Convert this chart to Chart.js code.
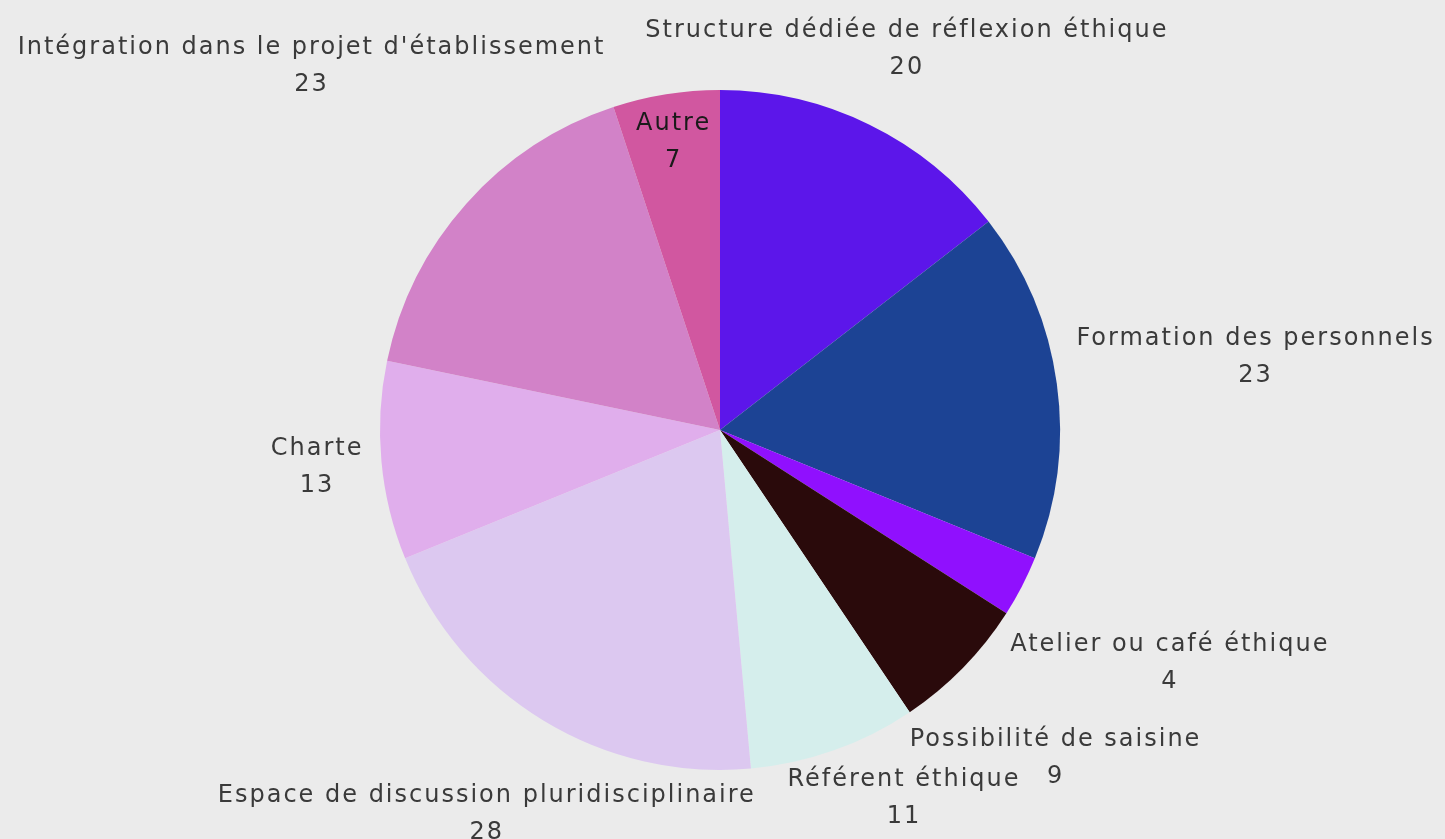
<!DOCTYPE html>
<html>
<head>
<meta charset="utf-8">
<script src="https://cdn.jsdelivr.net/npm/chart.js@4"></script>
<style>
  html, body { margin: 0; padding: 0; background: #ebebeb; }
  #wrap { width: 1445px; height: 839px; }
</style>
</head>
<body>
<div id="wrap"><canvas id="pieChart" width="1445" height="839"></canvas></div>
<script>
// Data
const categories = [
    'Structure dédiée de réflexion éthique',
    'Formation des personnels',
    'Atelier ou café éthique',
    'Possibilité de saisine',
    'Référent éthique',
    'Espace de discussion pluridisciplinaire',
    'Charte',
    "Intégration dans le projet d'établissement",
    'Autre'
];
const counts = [20, 23, 4, 9, 11, 28, 13, 23, 7];
const sliceColors = ['#5c16ea', '#1c4394', '#9010fe', '#2a0a0b', '#d5eeec', '#dcc8f0', '#e0aeec', '#d282c8', '#d157a0'];

// label distance from centre (x radius), and small angle tweaks in degrees
const labelRadius = [1.25, 1.59, 1.49, 1.38, 1.21, 1.32, 1.19, 1.61, 0.86];
const labelShift = [0, 0, 0, 0, -7, 0, 0, 0, 0];

const labelPlugin = {
    id: 'sliceLabels',
    afterDatasetsDraw(chart) {
        const ctx = chart.ctx;
        const meta = chart.getDatasetMeta(0);
        ctx.save();
        ctx.font = '24px "DejaVu Sans", sans-serif';
        ctx.letterSpacing = '2px';
        ctx.textAlign = 'center';
        ctx.textBaseline = 'middle';
        meta.data.forEach((arc, i) => {
            const mid = (arc.startAngle + arc.endAngle) / 2 + labelShift[i] * Math.PI / 180;
            const r = arc.outerRadius * labelRadius[i];
            const x = arc.x + Math.cos(mid) * r;
            const y = arc.y + Math.sin(mid) * r;
            ctx.fillStyle = i === 8 ? '#1a1a1a' : '#3a3a3a';
            ctx.fillText(categories[i], x, y - 18);
            ctx.fillText(String(counts[i]), x, y + 19);
        });
        ctx.restore();
    }
};

new Chart(document.getElementById('pieChart'), {
    type: 'pie',
    data: {
        labels: categories,
        datasets: [{
            data: counts,
            backgroundColor: sliceColors,
            borderWidth: 0
        }]
    },
    options: {
        responsive: false,
        animation: false,
        layout: {
            padding: { top: 90, bottom: 69, left: 300, right: 305 }
        },
        plugins: {
            legend: { display: false },
            tooltip: { enabled: false }
        }
    },
    plugins: [labelPlugin]
});
</script>
</body>
</html>
